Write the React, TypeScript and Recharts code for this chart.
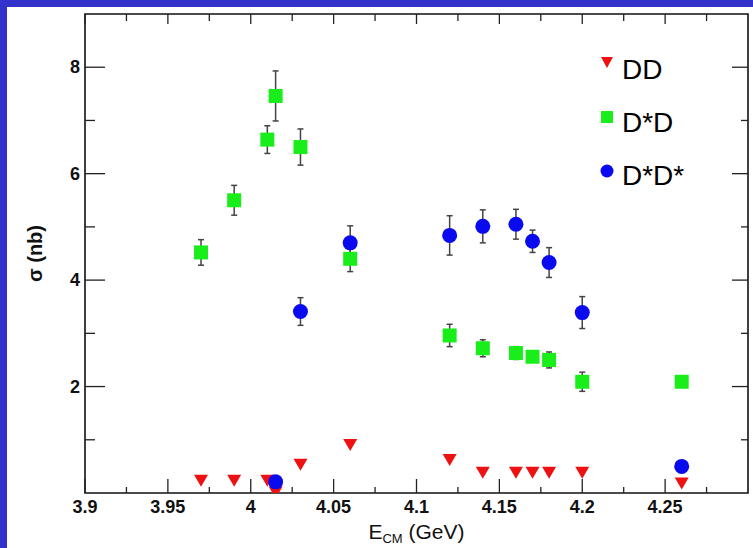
import { ScatterChart, Scatter, XAxis, YAxis, ErrorBar, ReferenceArea } from "recharts";

// cross sections (nb), per final state
const ddEnergy = [3.97, 3.99, 4.01, 4.015, 4.03, 4.06, 4.12, 4.14, 4.16, 4.17, 4.18, 4.2, 4.26];
const ddSigma = [0.23, 0.23, 0.23, 0.01, 0.53, 0.9, 0.62, 0.38, 0.38, 0.38, 0.38, 0.38, 0.18];

const dstarDEnergy = [3.97, 3.99, 4.01, 4.015, 4.03, 4.06, 4.12, 4.14, 4.16, 4.17, 4.18, 4.2, 4.26];
const dstarDSigma = [4.52, 5.5, 6.64, 7.46, 6.5, 4.4, 2.96, 2.72, 2.63, 2.56, 2.5, 2.09, 2.09];
const dstarDErr = [0.24, 0.28, 0.26, 0.47, 0.34, 0.24, 0.21, 0.16, 0.12, 0.1, 0.15, 0.18, 0];

const dstarDstarEnergy = [4.015, 4.03, 4.06, 4.12, 4.14, 4.16, 4.17, 4.18, 4.2, 4.26];
const dstarDstarSigma = [0.21, 3.41, 4.7, 4.84, 5.01, 5.05, 4.73, 4.33, 3.39, 0.5];
const dstarDstarErr = [0, 0.26, 0.32, 0.37, 0.31, 0.28, 0.21, 0.28, 0.3, 0];

const xMajor = [3.9, 3.95, 4.0, 4.05, 4.1, 4.15, 4.2, 4.25];
const xLabels = ["3.9", "3.95", "4", "4.05", "4.1", "4.15", "4.2", "4.25"];
const xMinor = [3.925, 3.975, 4.025, 4.075, 4.125, 4.175, 4.225, 4.275];
const yMajor = [2, 4, 6, 8];
const yMinor = [1, 3, 5, 7];

const seriesNames = ["DD", "D*D", "D*D*"];

const RED = "#ee1111";
const GREEN = "#1aee1a";
const BLUE = "#0a0aee";
const FONT = "'Liberation Sans', Arial, Helvetica, sans-serif";

const PLOT_TOP = 14;
const PLOT_RIGHT = 748;

const ddData = ddEnergy.map((x, i) => ({ x, y: ddSigma[i] }));
const dstarDData = dstarDEnergy.map((x, i) => ({ x, y: dstarDSigma[i], err: dstarDErr[i] }));
const dstarDstarData = dstarDstarEnergy.map((x, i) => ({ x, y: dstarDstarSigma[i], err: dstarDstarErr[i] }));

function DownTriangle(props: any) {
  const { cx, cy } = props;
  return <polygon points={`${cx - 7},${cy - 6} ${cx + 7},${cy - 6} ${cx},${cy + 6}`} fill={RED} />;
}

function Square(props: any) {
  const { cx, cy } = props;
  return <rect x={cx - 7} y={cy - 7} width={14} height={14} fill={GREEN} />;
}

function Dot(props: any) {
  const { cx, cy } = props;
  return <circle cx={cx} cy={cy} r={7.5} fill={BLUE} />;
}

function XTick(props: any) {
  const { x, y, payload } = props;
  const i = xMajor.findIndex((v) => Math.abs(v - payload.value) < 1e-6);
  const major = i >= 0;
  return (
    <g>
      <line x1={x} x2={x} y1={y} y2={y - (major ? 14 : 6)} stroke="#222" strokeWidth={1.3} />
      <line x1={x} x2={x} y1={PLOT_TOP} y2={PLOT_TOP + (major ? 10 : 7)} stroke="#222" strokeWidth={1.3} />
      {major && (
        <text x={x} y={y + 20} textAnchor="middle" fontSize={18} fontWeight="bold" fontFamily={FONT} fill="#111">
          {xLabels[i]}
        </text>
      )}
    </g>
  );
}

function YTick(props: any) {
  const { x, y, payload } = props;
  const major = yMajor.includes(payload.value);
  return (
    <g>
      <line x1={x} x2={x + (major ? 20 : 10)} y1={y} y2={y} stroke="#222" strokeWidth={1.3} />
      <line x1={PLOT_RIGHT} x2={PLOT_RIGHT - (major ? 16 : 7)} y1={y} y2={y} stroke="#222" strokeWidth={1.3} />
      {major && (
        <text x={x - 5} y={y + 6} textAnchor="end" fontSize={18} fontWeight="bold" fontFamily={FONT} fill="#111">
          {payload.value}
        </text>
      )}
    </g>
  );
}

function LegendBox() {
  return (
    <svg width={150} height={160} style={{ position: "absolute", left: 596, top: 40 }}>
      <polygon points="5,17 17,17 11,28" fill={RED} />
      <rect x={5} y={71} width={12} height={12} fill={GREEN} />
      <circle cx={11} cy={131} r={6.5} fill={BLUE} />
      {seriesNames.map((name, i) => (
        <text key={name} x={26} y={39 + i * 53} fontSize={28} fontFamily={FONT} fill="#000">
          {name}
        </text>
      ))}
    </svg>
  );
}

export default function App() {
  return (
    <div style={{ position: "absolute", left: 0, top: 0, width: 753, height: 548, background: "#3333cc", overflow: "hidden" }}>
      <div style={{ position: "absolute", left: 7, top: 7, width: 746, height: 541, background: "#fff" }} />
      <div style={{ position: "absolute", left: 0, top: 0 }}>
        <ScatterChart width={753} height={548} margin={{ top: 14, right: 5, bottom: 0, left: 0 }}>
          <XAxis
            type="number"
            dataKey="x"
            domain={[3.9, 4.3]}
            ticks={[...xMajor, ...xMinor]}
            interval={0}
            tick={<XTick />}
            tickLine={false}
            tickSize={0}
            tickMargin={0}
            axisLine={false}
            height={55}
            allowDataOverflow
            label={(p: any) => {
              const vb = p.viewBox;
              return (
                <text x={vb.x + vb.width / 2} y={vb.y + 46} textAnchor="middle" fontSize={21} fontFamily={FONT} fill="#111">
                  <tspan>E</tspan>
                  <tspan fontSize={13} dy={4}>CM</tspan>
                  <tspan dy={-4}> (GeV)</tspan>
                </text>
              );
            }}
          />
          <YAxis
            type="number"
            dataKey="y"
            domain={[0, 9]}
            ticks={[...yMinor, ...yMajor]}
            interval={0}
            tick={<YTick />}
            tickLine={false}
            tickSize={0}
            tickMargin={0}
            axisLine={false}
            width={85}
            allowDataOverflow
            label={(p: any) => {
              const vb = p.viewBox;
              const cy = vb.y + vb.height / 2;
              return (
                <text x={35} y={cy} transform={`rotate(-90 35 ${cy})`} textAnchor="middle" dominantBaseline="central" fontSize={20} fontWeight="bold" fontFamily={FONT} fill="#111">
                  σ (nb)
                </text>
              );
            }}
          />
          <ReferenceArea x1={3.9} x2={4.3} y1={0} y2={9} fill="none" stroke="#111" strokeWidth={1.6} ifOverflow="visible" />
          <Scatter name={seriesNames[0]} data={ddData} shape={<DownTriangle />} isAnimationActive={false} />
          <Scatter name={seriesNames[1]} data={dstarDData} shape={<Square />} isAnimationActive={false}>
            <ErrorBar dataKey="err" direction="y" stroke="#444" strokeWidth={1.5} width={3} />
          </Scatter>
          <Scatter name={seriesNames[2]} data={dstarDstarData} shape={<Dot />} isAnimationActive={false}>
            <ErrorBar dataKey="err" direction="y" stroke="#444" strokeWidth={1.5} width={3} />
          </Scatter>
        </ScatterChart>
      </div>
      <LegendBox />
    </div>
  );
}
